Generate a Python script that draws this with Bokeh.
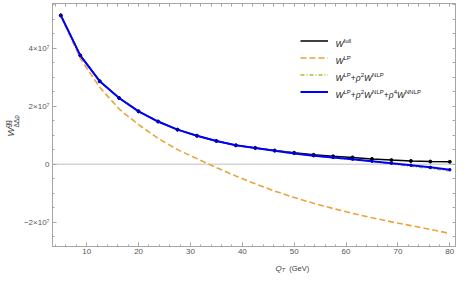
import numpy as np
from bokeh.plotting import figure
from bokeh.layouts import row, column
from bokeh.models import (LinearAxis, FixedTicker, Span, Label, Legend, LegendItem, Range1d)
from bokeh.embed import file_html
from bokeh.resources import INLINE

# ---------------- data (values in units of 1e6) ----------------
qt = [5.0, 8.75, 12.5, 16.25, 20.0, 23.75, 27.5, 31.25, 35.0, 38.75, 42.5,
      46.25, 50.0, 53.75, 57.5, 61.25, 65.0, 68.75, 72.5, 76.25, 80.0]
w_full = [51.3, 37.5, 28.6, 22.8, 18.2, 14.7, 11.9, 9.8, 8.0, 6.5, 5.6,
          4.7, 3.9, 3.2, 2.7, 2.3, 1.8, 1.4, 1.1, 0.9, 0.8]
w_lp = [51.1, 36.5, 26.5, 19.0, 13.6, 8.9, 5.0, 1.9, -1.2, -4.1, -6.8,
        -9.3, -11.5, -13.5, -15.3, -17.0, -18.5, -19.9, -21.2, -22.5, -23.9]
w_nlp = [51.3, 37.5, 28.6, 22.8, 18.2, 14.7, 11.9, 9.8, 8.0, 6.5, 5.6,
         4.6, 3.7, 2.85, 2.2, 1.55, 0.85, 0.1, -0.7, -1.5, -2.3]
w_nnlp = [51.3, 37.5, 28.6, 22.8, 18.2, 14.7, 11.9, 9.8, 8.0, 6.5, 5.6,
          4.6, 3.7, 2.9, 2.3, 1.7, 1.0, 0.3, -0.4, -1.1, -1.9]
scale = 1e6

x_ticks = [10, 20, 30, 40, 50, 60, 70, 80]
y_ticks = [-20000000, 0, 20000000, 40000000]
y_tick_labels = ["\u22122\u00d710\u2077", "0", "2\u00d710\u2077", "4\u00d710\u2077"]

FONT = "Liberation Sans"
GRAY = "#a6a6a6"
TXT = "#404040"

STRIP_W = 20
STRIP_H = 15
MAIN_H = 273 - STRIP_H
p = figure(width=456 - STRIP_W, height=MAIN_H, output_backend="svg", toolbar_location=None,
           x_range=Range1d(3.4, 81.1), y_range=Range1d(-28.4e6, 55.4e6),
           min_border_left=49 - STRIP_W, min_border_right=1, min_border_top=3, min_border_bottom=12,
           x_axis_location=None, y_axis_location=None)
p.grid.visible = False
p.outline_line_color = GRAY
p.background_fill_color = "white"

x_minor = [v for v in range(4, 82, 2) if v % 10]
y_minor = [v * 5e6 for v in range(-5, 12) if v % 4]

def style_axis(ax, standoff):
    ax.axis_line_color = GRAY
    ax.major_tick_line_color = GRAY
    ax.minor_tick_line_color = GRAY
    ax.major_tick_in = 4
    ax.major_tick_out = 0
    ax.minor_tick_in = 2
    ax.minor_tick_out = 0
    ax.major_label_text_font = FONT
    ax.major_label_text_font_size = "8px"
    ax.major_label_text_color = "#555555"
    ax.major_label_standoff = standoff
    return ax

xax = style_axis(LinearAxis(ticker=FixedTicker(ticks=x_ticks, minor_ticks=x_minor)), 2)
yax = style_axis(LinearAxis(ticker=FixedTicker(ticks=y_ticks, minor_ticks=y_minor)), 3)
yax.major_label_overrides = {t: s for t, s in zip(y_ticks, y_tick_labels)}
p.add_layout(xax, "below")
p.add_layout(yax, "left")

# tick marks (no labels) on the top and right edges of the frame
for kind, place in (("x", "above"), ("y", "right")):
    ticks = (x_ticks + x_minor) if kind == "x" else (y_ticks + y_minor)
    ax = LinearAxis(ticker=FixedTicker(ticks=[], minor_ticks=ticks))
    ax.axis_line_color = GRAY
    ax.minor_tick_line_color = GRAY
    ax.minor_tick_in = 3
    ax.minor_tick_out = 0
    ax.major_tick_out = 0
    ax.major_label_standoff = 0
    p.add_layout(ax, place)

p.add_layout(Span(location=0, dimension="width", line_color="#d4d4d4", line_width=1.5, level="underlay"))

ys = lambda arr: [v * scale for v in arr]
r_full = p.line(qt, ys(w_full), line_color="black", line_width=1.5)
p.scatter(qt, ys(w_full), size=3, color="black")
r_lp = p.line(qt, ys(w_lp), line_color="#E9A43C", line_width=1.6, line_dash="6 3")
r_nlp = p.line(qt, ys(w_nlp), line_color="#9DC53C", line_width=1.6, line_dash="4 2 1 2")
r_nnlp = p.line(qt, ys(w_nnlp), line_color="#0000FF", line_width=2)
p.scatter(qt, ys(w_nnlp), size=2.5, color="#0000C8")

FRAME_B = MAIN_H - 12  # frame bottom, px from figure top
legend_bottom = FRAME_B - 100
legend = Legend(items=[LegendItem(label=" ", renderers=[r]) for r in (r_full, r_lp, r_nlp, r_nnlp)],
                location=(248, legend_bottom), glyph_width=28, glyph_height=17, label_height=17,
                label_width=0, label_standoff=0, spacing=0, padding=0, margin=0,
                border_line_color=None, background_fill_alpha=0,
                label_text_font_size="6px")
p.add_layout(legend)

# -------- rich text built from pieces --------
W = {"W": .944, "L": .556, "P": .667, "N": .722, "f": .278, "u": .556, "l": .222,
     "+": .584, "\u03c1": .58, "2": .556, "4": .556, "g": .556, "\u0394": .668,
     "p": .556, "Q": .778, "T": .611, " ": .278, "(": .333, "G": .778, "e": .556,
     "V": .667, ")": .333}

def text_width(s, size):
    return sum(W.get(c, .6) for c in s) * size

def rich(fig, pieces, x0, yb, main=8.5, small=6, color="#1a1a1a", sup=3.5, sub=-2.2, upright=None):
    x = x0
    for txt, kind in pieces:
        size = main if kind == "m" else (upright or main) if kind == "u" else small
        dy = {"sup": sup, "sub": sub}.get(kind, 0)
        style = "italic" if kind in ("m", "sub") else "normal"
        lead = len(txt) - len(txt.lstrip(" "))
        x += text_width(" " * lead, size)
        txt = txt.lstrip(" ")
        fig.add_layout(Label(x=x, y=yb + dy, x_units="screen", y_units="screen", text=txt,
                             text_font=FONT, text_font_size=f"{size}px", text_font_style=style,
                             text_color=color, text_align="left", text_baseline="alphabetic"))
        x += text_width(txt, size)

rows = [
    [("W", "m"), ("full", "sup")],
    [("W", "m"), ("LP", "sup")],
    [("W", "m"), ("LP", "sup"), ("+", "u"), ("\u03c1", "m"), ("2", "sup"), ("W", "m"), ("NLP", "sup")],
    [("W", "m"), ("LP", "sup"), ("+", "u"), ("\u03c1", "m"), ("2", "sup"), ("W", "m"), ("NLP", "sup"),
     ("+", "u"), ("\u03c1", "m"), ("4", "sup"), ("W", "m"), ("NNLP", "sup")],
]
for i, pcs in enumerate(rows):
    yc = legend_bottom + 17 * (3 - i) + 8.5
    rich(p, pcs, 283, yc - 3)

def strip(width, height):
    f = figure(width=width, height=height, output_backend="svg", toolbar_location=None,
               x_range=Range1d(0, 1), y_range=Range1d(0, 1), min_border=0,
               x_axis_location=None, y_axis_location=None)
    f.grid.visible = False
    f.outline_line_color = None
    return f

# x axis title strip
xs = strip(456 - STRIP_W, STRIP_H)
rich(xs, [("Q", "m"), ("T", "sub"), ("  (GeV)", "u")], 243 - STRIP_W, 5.5, main=8, small=5.5,
     color=TXT, sub=-2.0, upright=7.5)

# y axis title strip (rotated)
ysf = strip(STRIP_W, 273)
ang = np.pi / 2
xb, yb0 = 10, 137
ysf.add_layout(Label(x=xb, y=yb0, x_units="screen", y_units="screen", text="W", angle=ang,
                     text_font=FONT, text_font_size="9.5px", text_font_style="italic",
                     text_color=TXT, text_baseline="alphabetic"))
yb1 = yb0 + text_width("W", 9.5)
ysf.add_layout(Label(x=xb - 2.6, y=yb1, x_units="screen", y_units="screen", text="gg", angle=ang,
                     text_font=FONT, text_font_size="6.5px", text_font_style="normal",
                     text_color=TXT, text_baseline="alphabetic"))
ysf.add_layout(Label(x=xb + 6.0, y=yb1, x_units="screen", y_units="screen", text="\u0394\u0394p", angle=ang,
                     text_font=FONT, text_font_size="6.5px", text_font_style="normal",
                     text_color=TXT, text_baseline="alphabetic"))

layout = row(ysf, column(p, xs, spacing=0), spacing=0)
open("out.html", "w").write(file_html(layout, INLINE))
